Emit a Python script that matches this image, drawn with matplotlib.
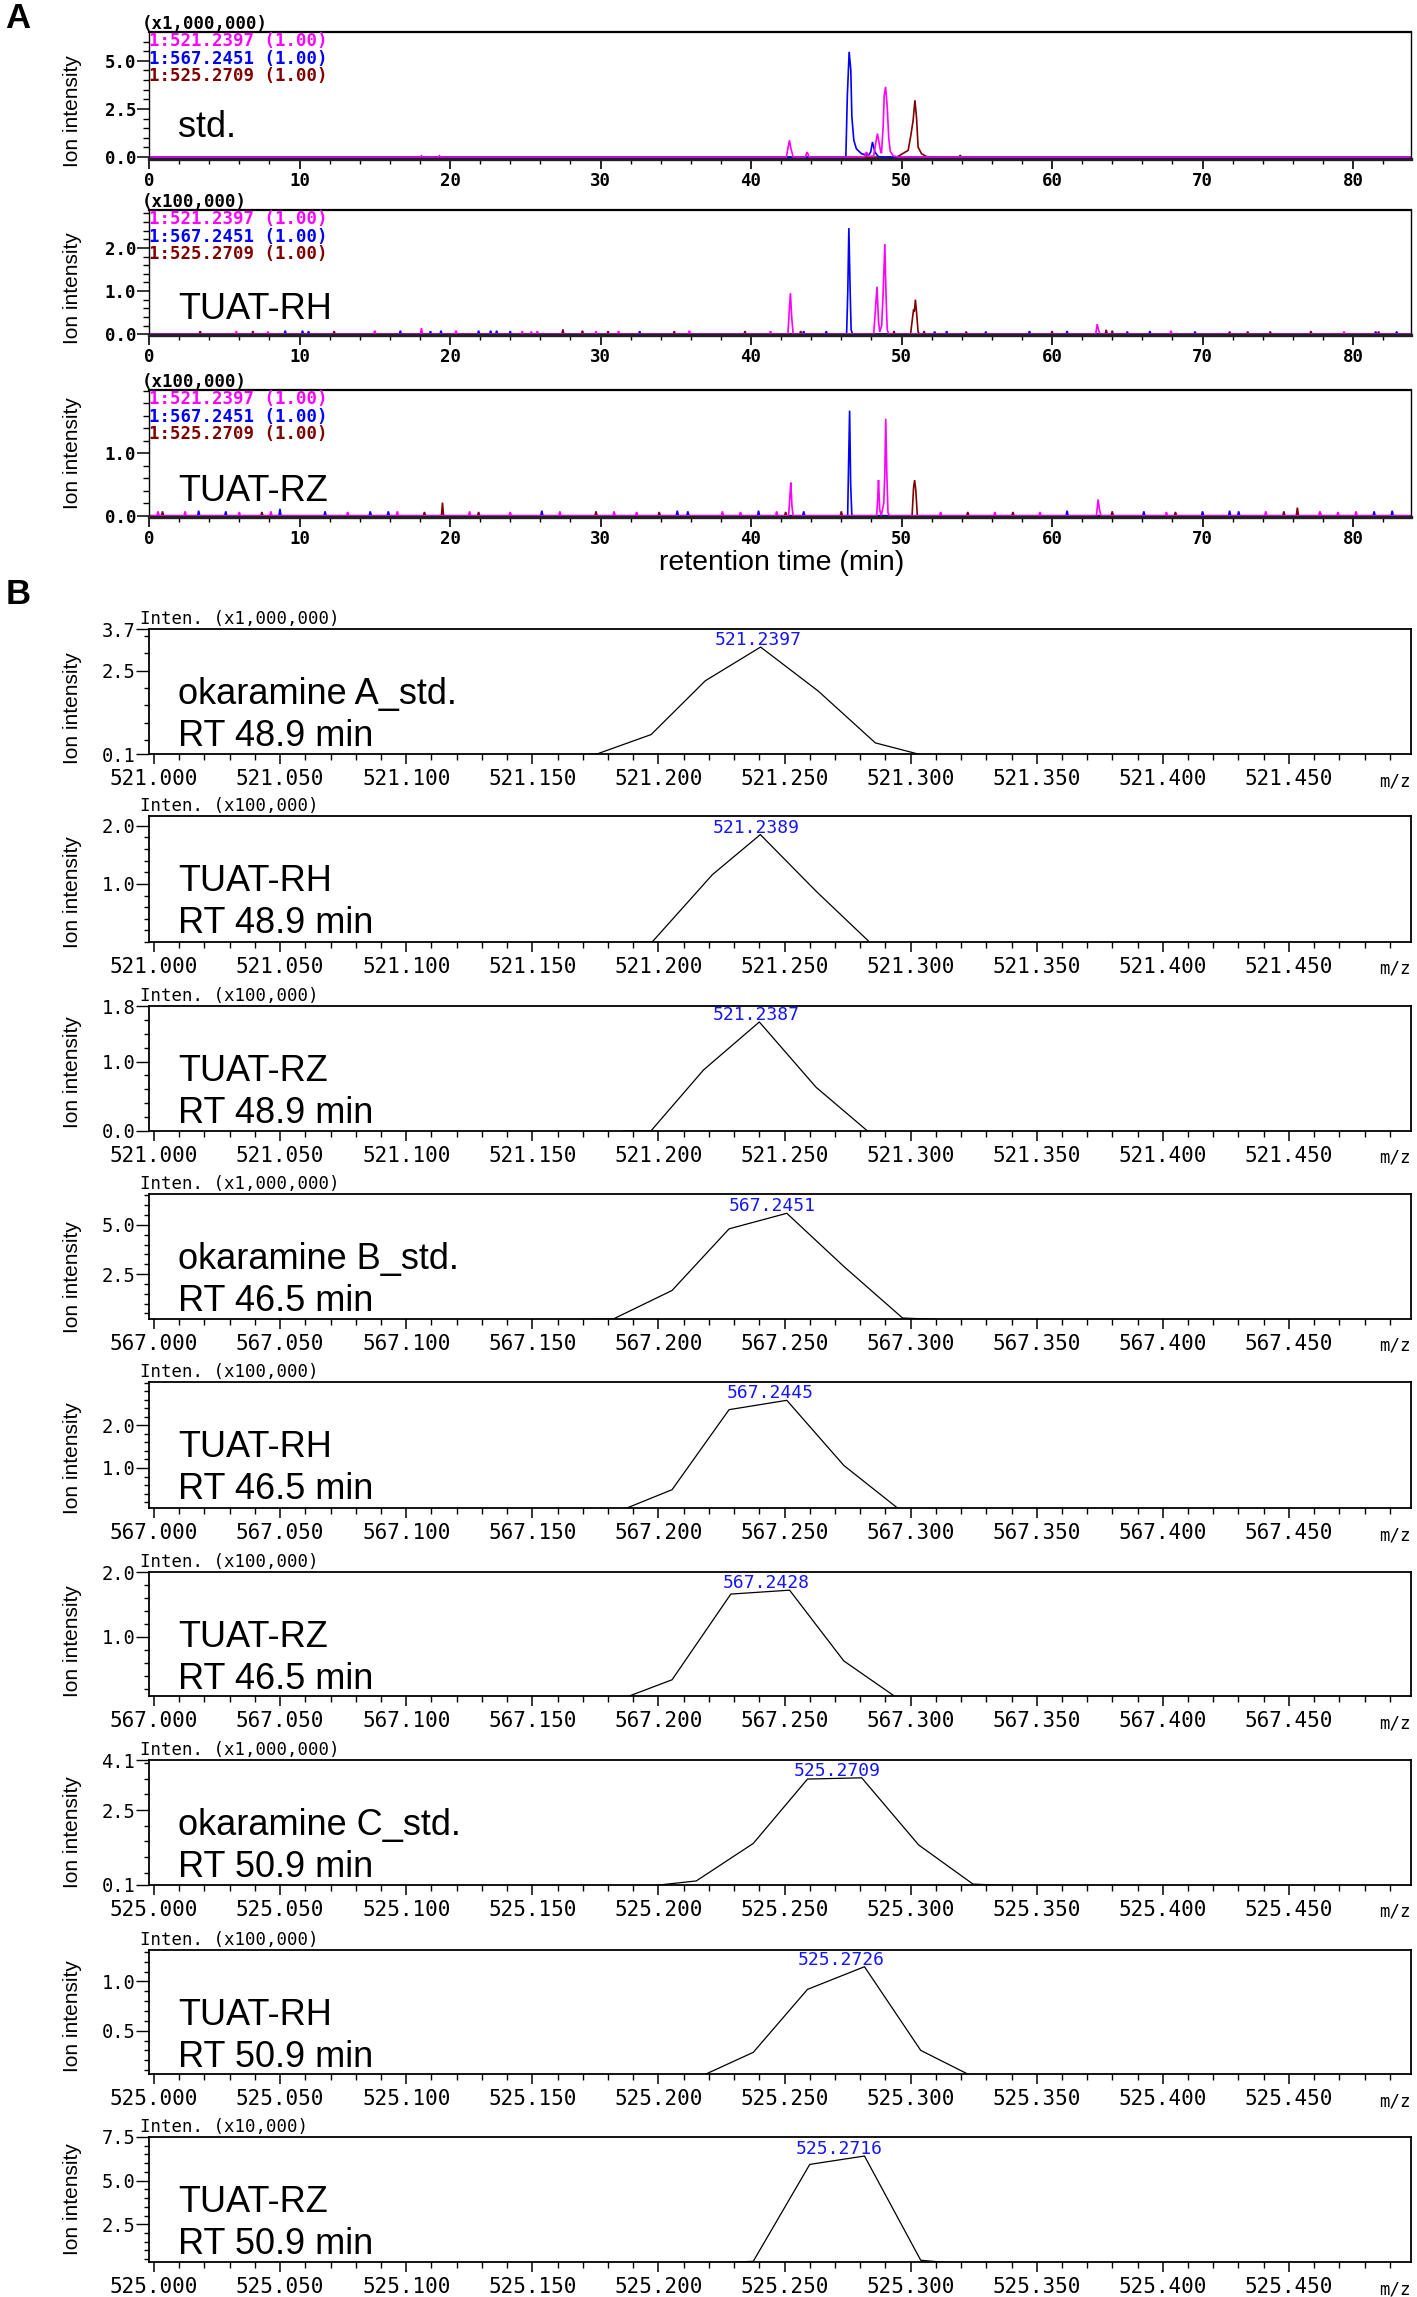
import numpy as np
import matplotlib
matplotlib.use("Agg")
import matplotlib.pyplot as plt
from matplotlib.font_manager import FontProperties

W, H = 1417, 2297
SANS = "Liberation Sans"
MONO = "DejaVu Sans Mono"
MAG, BLU, RED = "#FF00FF", "#0000FF", "#800000"

# ---------------- Panel A data (retention time [min], intensity in panel units) ----------------
RT_TICKS = [0, 10, 20, 30, 40, 50, 60, 70, 80]
LEGEND_LINES = ["1:521.2397 (1.00)", "1:567.2451 (1.00)", "1:525.2709 (1.00)"]
A_NAMES = ["std.", "TUAT-RH", "TUAT-RZ"]
A_SCALES = ["(x1,000,000)", "(x100,000)", "(x100,000)"]

A1_MAG = [(42.35, 0), (42.45, 0.45), (42.55, 0.87), (42.65, 0.45), (42.8, 0),
          (43.6, 0), (43.73, 0.26), (43.86, 0),
          (47.5, 0), (47.67, 0.26), (47.8, 0.04), (48.15, 0.05), (48.28, 0.7), (48.4, 1.22),
          (48.52, 0.7), (48.62, 0.25), (48.67, 0.2), (48.78, 1.6), (48.85, 3.2), (48.94, 3.65),
          (49.05, 2.6), (49.15, 1.0), (49.25, 0.3), (49.45, 0.06), (49.8, 0)]
A1_BLU = [(46.3, 0), (46.4, 3.21), (46.52, 5.47), (46.63, 4.51), (46.7, 2.08), (46.83, 0.87),
          (47.0, 0.43), (47.35, 0.17), (47.8, 0.09), (47.95, 0.26), (48.07, 0.78), (48.23, 0.26),
          (48.45, 0.03), (48.8, 0)]
A1_RED = [(49.67, 0), (49.89, 0.09), (50.44, 0.35), (50.62, 1.13), (50.77, 1.91), (50.89, 2.95),
          (51.0, 2.0), (51.1, 0.52), (51.33, 0.17), (51.66, 0.03), (51.9, 0)]
A1_MAG_SPK = [(18.1, 0.07), (19.3, 0.07)]
A1_BLU_SPK = []
A1_RED_SPK = [(53.9, 0.1)]

A2_MAG = [(42.45, 0), (42.55, 0.6), (42.62, 0.95), (42.7, 0.4), (42.8, 0),
          (48.15, 0), (48.27, 0.6), (48.37, 1.1), (48.47, 0.3), (48.55, 0.05), (48.68, 0.2),
          (48.78, 0.97), (48.89, 2.09), (48.97, 0.9), (49.05, 0.1), (49.15, 0),
          (62.9, 0), (63.0, 0.23), (63.1, 0.08), (63.2, 0)]
A2_BLU = [(46.35, 0), (46.43, 1.0), (46.5, 2.46), (46.58, 1.1), (46.65, 0.1), (46.75, 0)]
A2_RED = [(50.6, 0), (50.72, 0.35), (50.8, 0.57), (50.85, 0.52), (50.92, 0.80), (51.0, 0.5),
          (51.1, 0.05), (51.2, 0)]
A2_MAG_SPK = [(5.8, .07), (7.9, .06), (15.0, .08), (18.1, .14), (20.4, .08), (24.8, .07), (25.4, .06),
              (25.8, .07), (29.7, .07), (31.2, .07), (35.9, .08), (41.3, .07), (67.9, .08), (79.4, .06)]
A2_BLU_SPK = [(9.05, .08), (10.2, .08), (10.6, .07), (16.7, .08), (18.7, .07), (19.4, .08), (21.9, .08),
              (22.7, .08), (23.1, .08), (24.0, .07), (32.6, .07), (43.5, .07), (45.0, .07), (52.2, .06),
              (53.0, .07), (55.6, .06), (58.5, .07), (61.0, .07), (65.0, .06), (66.5, .07), (69.5, .06),
              (81.5, .06), (82.9, .06)]
A2_RED_SPK = [(3.4, .07), (6.9, .07), (12.3, .07), (27.5, .11), (28.8, .08), (30.5, .07), (34.9, .07),
              (39.6, .07), (43.3, .07), (49.5, .07), (51.5, .07), (54.3, .06), (60.0, .07), (63.6, .1),
              (64.0, .08), (71.8, .06), (73.0, .06), (74.5, .06), (77.2, .07), (81.7, .06)]

A3_MAG = [(42.5, 0), (42.58, 0.3), (42.64, 0.53), (42.72, 0.15), (42.8, 0),
          (48.35, 0), (48.42, 0.3), (48.47, 0.57), (48.55, 0.1), (48.65, 0), (48.82, 0.2),
          (48.89, 0.7), (48.95, 1.55), (49.02, 0.7), (49.1, 0.05), (49.2, 0),
          (62.95, 0), (63.06, 0.26), (63.15, 0.1), (63.25, 0)]
A3_BLU = [(46.42, 0), (46.48, 0.8), (46.55, 1.68), (46.62, 0.5), (46.7, 0)]
A3_RED = [(50.7, 0), (50.8, 0.45), (50.87, 0.57), (50.95, 0.4), (51.05, 0)]
A3_MAG_SPK = [(0.6, .07), (2.4, .07), (6.0, .06), (8.1, .07), (13.2, .06), (16.5, .07), (21.3, .07),
              (24.0, .06), (27.3, .07), (30.9, .07), (32.4, .06), (38.1, .07), (39.3, .06), (41.7, .07),
              (52.6, .06), (56.2, .06), (59.2, .06), (67.6, .06), (74.2, .07), (77.8, .07), (79.0, .06),
              (80.2, .07)]
A3_BLU_SPK = [(3.3, .08), (5.1, .07), (8.7, .11), (11.7, .07), (14.7, .07), (15.9, .07), (26.1, .08),
              (35.1, .08), (35.8, .07), (40.5, .08), (43.5, .07), (61.0, .08), (66.1, .07), (70.0, .07),
              (71.8, .08), (72.4, .07), (81.4, .07), (82.6, .08)]
A3_RED_SPK = [(0.9, .07), (7.5, .06), (18.3, .06), (19.5, .21), (21.9, .06), (29.7, .07), (33.9, .06),
              (42.3, .06), (46.0, .07), (54.4, .06), (57.4, .06), (64.0, .07), (68.2, .06), (75.4, .07),
              (76.3, .13), (77.8, .06)]

A_YLIM = [(-0.1, 6.5), (-0.02, 2.88), (-0.02, 2.01)]
A_YTICKS = [[0.0, 2.5, 5.0], [0.0, 1.0, 2.0], [0.0, 1.0]]
A_YMINOR = [0.5, 0.2, 0.2]

# ---------------- Panel B data (m/z, intensity in panel units) ----------------
B_NAMES = [("okaramine A_std.", "RT 48.9 min"), ("TUAT-RH", "RT 48.9 min"), ("TUAT-RZ", "RT 48.9 min"),
           ("okaramine B_std.", "RT 46.5 min"), ("TUAT-RH", "RT 46.5 min"), ("TUAT-RZ", "RT 46.5 min"),
           ("okaramine C_std.", "RT 50.9 min"), ("TUAT-RH", "RT 50.9 min"), ("TUAT-RZ", "RT 50.9 min")]
B_SCALES = ["Inten. (x1,000,000)", "Inten. (x100,000)", "Inten. (x100,000)",
            "Inten. (x1,000,000)", "Inten. (x100,000)", "Inten. (x100,000)",
            "Inten. (x1,000,000)", "Inten. (x100,000)", "Inten. (x10,000)"]
B_BASE = [521.0, 521.0, 521.0, 567.0, 567.0, 567.0, 525.0, 525.0, 525.0]
B_PEAK_LABELS = ["521.2397", "521.2389", "521.2387", "567.2451", "567.2445", "567.2428",
                 "525.2709", "525.2726", "525.2716"]

B1_MZ = [521.161, 521.1756, 521.1971, 521.2186, 521.2405, 521.2634, 521.286, 521.304]
B1_I = [0.06, 0.10, 0.66, 2.21, 3.18, 1.91, 0.42, 0.08]
B2_MZ = [521.190, 521.1975, 521.2214, 521.2404, 521.2625, 521.2832]
B2_I = [0.0, 0.0, 1.16, 1.85, 0.875, 0.02]
B3_MZ = [521.186, 521.197, 521.2179, 521.240, 521.2625, 521.2829]
B3_I = [0.0, 0.0, 0.88, 1.57, 0.63, 0.0]
B4_MZ = [567.168, 567.1821, 567.2054, 567.228, 567.2509, 567.2735, 567.2968, 567.310]
B4_I = [0.20, 0.22, 1.67, 4.80, 5.59, 2.89, 0.27, 0.20]
B5_MZ = [567.185, 567.2054, 567.228, 567.2509, 567.2735, 567.295]
B5_I = [0.0, 0.49, 2.37, 2.59, 1.06, 0.05]
B6_MZ = [567.1857, 567.2054, 567.2287, 567.252, 567.2735, 567.295]
B6_I = [0.05, 0.34, 1.66, 1.72, 0.63, 0.05]
B7_MZ = [525.198, 525.215, 525.2376, 525.2591, 525.2806, 525.3032, 525.3247, 525.338]
B7_I = [0.08, 0.23, 1.43, 3.49, 3.53, 1.38, 0.13, 0.08]
B8_MZ = [525.218, 525.2376, 525.2591, 525.2817, 525.304, 525.3226]
B8_I = [0.05, 0.28, 0.92, 1.15, 0.30, 0.06]
B9_MZ = [525.225, 525.2376, 525.260, 525.2817, 525.304, 525.315]
B9_I = [0.30, 0.38, 5.93, 6.41, 0.44, 0.30]

B_YLIM = [(0.1, 3.7), (0.0, 2.17), (0.0, 1.8), (0.22, 6.57), (0.06, 3.02), (0.09, 2.0),
          (0.1, 4.1), (0.06, 1.32), (0.34, 7.5)]
B_YTICKS = [[0.1, 2.5, 3.7], [1.0, 2.0], [0.0, 1.0, 1.8], [2.5, 5.0], [1.0, 2.0], [1.0, 2.0],
            [0.1, 2.5, 4.1], [0.5, 1.0], [2.5, 5.0, 7.5]]
B_YMINOR = [0.5, 0.2, 0.2, 0.5, 0.2, 0.2, 0.5, 0.1, 0.5]

# ---------------- layout (pixels) ----------------
A_TOPS = [32, 210, 390]
A_BOTS = [159, 335, 517]
A_NAME_BASE = [22, 16, 16]
A_YLAB_OFF = [16, 16, 0]
B_TOPS = [629, 816, 1006, 1194, 1382, 1572, 1760, 1950, 2137]
B_BOTS = [754, 942, 1131, 1319, 1508, 1696, 1885, 2074, 2262]
B_YLAB_OFF = [17, 13, 4, 21, 13, 7, 10, 4, 0]
LEFT, RIGHT = 149, 1411

fig = plt.figure(figsize=(W / 100, H / 100), dpi=100)


def add_ax(top, bottom):
    return fig.add_axes([LEFT / W, 1 - bottom / H, (RIGHT - LEFT) / W, (bottom - top) / H])


def ftext(xp, yp, s, **kw):
    return fig.text(xp / W, 1 - yp / H, s, **kw)


def trace(peaks, spikes, hw=0.07, xmax=84.0):
    pts = [(0.0, 0.0), (xmax, 0.0)] + list(peaks)
    for rt, h in spikes:
        pts += [(rt - hw, 0.0), (rt, h), (rt + hw, 0.0)]
    pts.sort()
    x, y = zip(*pts)
    return x, y


fpA = FontProperties(family=MONO, weight="bold", size=12.5)
fpB = FontProperties(family=MONO, size=15)
fpBy = FontProperties(family=MONO, size=13.5)
fpBs = FontProperties(family=MONO, size=12.5)
fpBp = FontProperties(family=MONO, size=13)

A_TRACES = [
    [(A1_RED, A1_RED_SPK, RED), (A1_BLU, A1_BLU_SPK, BLU), (A1_MAG, A1_MAG_SPK, MAG)],
    [(A2_RED, A2_RED_SPK, RED), (A2_BLU, A2_BLU_SPK, BLU), (A2_MAG, A2_MAG_SPK, MAG)],
    [(A3_RED, A3_RED_SPK, RED), (A3_BLU, A3_BLU_SPK, BLU), (A3_MAG, A3_MAG_SPK, MAG)],
]

for i in range(3):
    top, bot = A_TOPS[i], A_BOTS[i]
    h = bot - top
    ax = add_ax(top, bot)
    for peaks, spk, col in A_TRACES[i]:
        x, y = trace(peaks, spk)
        ax.plot(x, y, color=col, lw=1.2, solid_joinstyle="miter")
    ax.set_xlim(0, 83.85)
    ax.set_ylim(*A_YLIM[i])
    ax.set_xticks(RT_TICKS)
    ax.set_xticklabels([str(v) for v in RT_TICKS], fontproperties=fpA)
    ax.set_xticks(np.arange(0, 84, 2), minor=True)
    ax.set_yticks(A_YTICKS[i])
    ax.set_yticklabels([f"{v:.1f}" for v in A_YTICKS[i]], fontproperties=fpA)
    ax.set_yticks(np.arange(0, A_YLIM[i][1], A_YMINOR[i]), minor=True)
    ax.tick_params(axis="x", which="major", direction="out", length=7.5, width=1.2, pad=2)
    ax.tick_params(axis="x", which="minor", direction="out", length=3.8, width=1.0)
    ax.tick_params(axis="y", which="major", direction="out", length=8.6, width=1.1, pad=0.5)
    ax.tick_params(axis="y", which="minor", direction="out", length=4.2, width=1.0)
    for s in ["left", "right"]:
        ax.spines[s].set_linewidth(1.0)
    ax.spines["top"].set_linewidth(1.6)
    ax.spines["bottom"].set_linewidth(2.4)
    ax.spines["bottom"].set_color("#222222")
    for k, (line, col) in enumerate(zip(LEGEND_LINES, [MAG, BLU, RED])):
        ax.text(0.0, 1 - (9 + 17.5 * k) / h, line, transform=ax.transAxes, color=col,
                fontproperties=fpA, ha="left", va="center")
    ax.text(0.023, A_NAME_BASE[i] / h, A_NAMES[i], transform=ax.transAxes, family=SANS,
            fontsize=26, ha="left", va="baseline")
    ftext(142, top - 8, A_SCALES[i], fontproperties=fpA, ha="left", va="center")
    ftext(73, (top + bot) / 2 + A_YLAB_OFF[i], "Ion intensity", family=SANS, fontsize=15,
          rotation=90, ha="center", va="center")

ftext(782, 563, "retention time (min)", family=SANS, fontsize=20.5, ha="center", va="center")

B_DATA = [(B1_MZ, B1_I), (B2_MZ, B2_I), (B3_MZ, B3_I), (B4_MZ, B4_I), (B5_MZ, B5_I),
          (B6_MZ, B6_I), (B7_MZ, B7_I), (B8_MZ, B8_I), (B9_MZ, B9_I)]

for i in range(9):
    top, bot = B_TOPS[i], B_BOTS[i]
    h = bot - top
    ax = add_ax(top, bot)
    mz, inten = B_DATA[i]
    ax.plot(mz, inten, color="black", lw=0.9)
    base = B_BASE[i]
    ax.set_xlim(base - 0.002, base + 0.4984)
    ax.set_ylim(*B_YLIM[i])
    major = [base + 0.05 * k for k in range(10)]
    ax.set_xticks(major)
    ax.set_xticklabels([f"{v:.3f}" for v in major], fontproperties=fpB)
    ax.set_xticks([base + 0.01 * k for k in range(50)], minor=True)
    ax.set_yticks(B_YTICKS[i])
    ax.set_yticklabels([f"{v:.1f}" for v in B_YTICKS[i]], fontproperties=fpBy)
    step = B_YMINOR[i]
    lo, hi = B_YLIM[i]
    ax.set_yticks(np.arange(np.ceil(lo / step) * step, hi, step), minor=True)
    ax.tick_params(axis="x", which="major", direction="out", length=7.5, width=1.1, pad=3)
    ax.tick_params(axis="x", which="minor", direction="out", length=4.3, width=1.0)
    ax.tick_params(axis="y", which="major", direction="out", length=9.4, width=1.0, pad=0.5)
    ax.tick_params(axis="y", which="minor", direction="out", length=3.6, width=1.0)
    for s in ax.spines.values():
        s.set_linewidth(1.3)
    name1, name2 = B_NAMES[i]
    ax.text(0.023, 1 - 75 / h, name1, transform=ax.transAxes, family=SANS, fontsize=26,
            ha="left", va="baseline")
    ax.text(0.023, 1 - 117 / h, name2, transform=ax.transAxes, family=SANS, fontsize=26,
            ha="left", va="baseline")
    apex = max(inten)
    ax.annotate(B_PEAK_LABELS[i], xy=(float(B_PEAK_LABELS[i]), apex), xytext=(0, 5),
                textcoords="offset points", ha="center", va="center", color="#1515FF",
                fontproperties=fpBp, annotation_clip=False)
    ftext(140, top - 10, B_SCALES[i], fontproperties=fpBs, ha="left", va="center")
    ftext(RIGHT, bot + 27, "m/z", fontproperties=fpBs, ha="right", va="center")
    ftext(73, (top + bot) / 2 + B_YLAB_OFF[i], "Ion intensity", family=SANS, fontsize=15,
          rotation=90, ha="center", va="center")

ftext(18, 19, "A", family=SANS, fontsize=25, fontweight="bold", ha="center", va="center")
ftext(18, 595, "B", family=SANS, fontsize=25, fontweight="bold", ha="center", va="center")

fig.savefig("out.png", dpi=100)
